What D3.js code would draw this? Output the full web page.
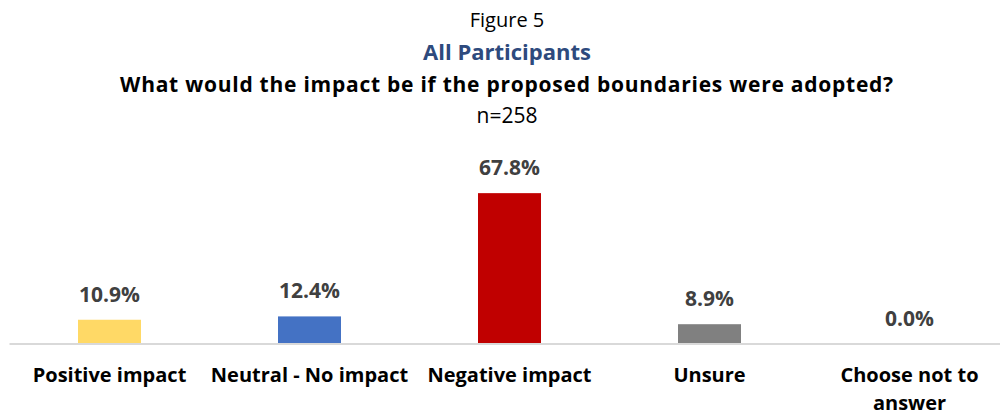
<!DOCTYPE html>
<html>
<head>
<meta charset="utf-8">
<script src="https://cdn.jsdelivr.net/npm/d3@7/dist/d3.min.js"></script>
<style>
  html, body { margin: 0; padding: 0; background: #fff; }
  svg { display: block; font-family: "Open Sans", Lato, sans-serif; }
</style>
</head>
<body>
<svg id="chart" width="1000" height="415"></svg>
<script>
// Survey responses (percent of participants)
const categories = ["Positive impact", "Neutral - No impact", "Negative impact", "Unsure", "Choose not to answer"];
const values = [10.9, 12.4, 67.8, 8.9, 0.0];
const colors = ["#FFD966", "#4472C4", "#C00000", "#808080", "#A5A5A5"];
const titleLines = ["Figure 5", "All Participants", "What would the impact be if the proposed boundaries were adopted?", "n=258"];

const svg = d3.select("#chart");
const W = 1000, H = 415;
const margin = { left: 9.5, right: -9.5, top: 166, bottom: 71 };

const x = d3.scaleBand()
  .domain(categories)
  .range([margin.left, W - margin.right])
  .paddingInner(0.685)
  .paddingOuter(0.3425);

const y = d3.scaleLinear()
  .domain([0, 80])
  .range([H - margin.bottom, margin.top]);

// Titles
const cx = 507;
svg.append("text").attr("x", cx).attr("y", 27).attr("text-anchor", "middle")
  .attr("font-size", 20).attr("fill", "#000").text(titleLines[0]);
svg.append("text").attr("x", cx).attr("y", 60).attr("text-anchor", "middle")
  .attr("font-size", 22).attr("font-weight", "bold").attr("fill", "#2E4A7D").text(titleLines[1]);
svg.append("text").attr("x", cx).attr("y", 92).attr("text-anchor", "middle")
  .attr("font-size", 21).attr("font-weight", "bold").attr("letter-spacing", 0.75)
  .attr("fill", "#000").text(titleLines[2]);
svg.append("text").attr("x", cx).attr("y", 123).attr("text-anchor", "middle")
  .attr("font-size", 21).attr("fill", "#000").text(titleLines[3]);

// Bars
svg.append("g").selectAll("rect")
  .data(values)
  .join("rect")
  .attr("x", (d, i) => x(categories[i]))
  .attr("width", x.bandwidth())
  .attr("y", d => y(d))
  .attr("height", d => y(0) - y(d))
  .attr("fill", (d, i) => colors[i]);

// Category axis
const axis = svg.append("g")
  .attr("transform", `translate(0,${y(0)})`)
  .call(d3.axisBottom(x).tickSize(0).tickPadding(0));
axis.select(".domain").attr("stroke", "#D9D9D9").attr("stroke-width", 2)
  .attr("d", `M${margin.left},0H${W}`);
axis.selectAll(".tick text").remove();

// Wrapped category labels
const wrapWidth = 208;
axis.selectAll(".tick").each(function(d) {
  const g = d3.select(this);
  const t = g.append("text").attr("text-anchor", "middle")
    .attr("font-size", 20).attr("font-weight", "bold").attr("fill", "#000")
    .attr("font-family", "'Open Sans', Lato, sans-serif");
  const words = d.split(" ");
  let lines = [], line = [];
  const probe = t.append("tspan");
  words.forEach(w => {
    const test = line.concat(w).join(" ");
    probe.text(test);
    if (probe.node().getComputedTextLength() > wrapWidth && line.length) {
      lines.push(line.join(" "));
      line = [w];
    } else line = line.concat(w);
  });
  lines.push(line.join(" "));
  probe.remove();
  lines.forEach((l, i) => {
    t.append("tspan").attr("x", 0).attr("y", 38 + i * 28).text(l);
  });
});

// Value labels
svg.append("g").selectAll("text")
  .data(values)
  .join("text")
  .attr("x", (d, i) => x(categories[i]) + x.bandwidth() / 2)
  .attr("y", d => y(d) - 18)
  .attr("text-anchor", "middle")
  .attr("font-size", 21).attr("font-weight", "bold").attr("fill", "#404040")
  .text(d => d.toFixed(1) + "%");
</script>
</body>
</html>
